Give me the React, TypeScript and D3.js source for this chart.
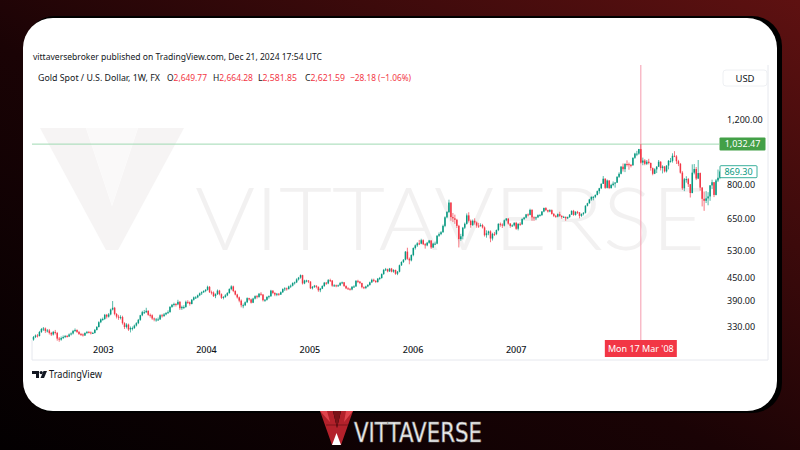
import React from "react";
import * as d3 from "d3";

// ---- DATA ----
// first Monday of each yearly block of weekly candles
const yearStarts = ["2002-04-29", "2003-01-06", "2004-01-05", "2005-01-03", "2006-01-02", "2007-01-01", "2008-01-07"];
const firstOpen = 305;
// weekly candles: [high, low, close]; open = previous close
const gold2002 = [
  [312, 303, 310], [315, 308, 313], [316, 309, 312], [322, 311, 320], [328, 318, 326],
  [330, 322, 327], [329, 318, 322], [326, 319, 323], [326, 315, 318],
  [320, 312, 315], [322, 313, 320], [324, 315, 318], [320, 303, 307], [310, 301, 305],
  [311, 303, 308], [313, 306, 310], [314, 308, 312], [314, 309, 311],
  [317, 310, 315], [319, 313, 317], [324, 315, 322], [327, 320, 324], [325, 318, 320],
  [322, 314, 316], [318, 312, 315], [317, 311, 313], [319, 312, 318],
  [322, 316, 320], [322, 317, 319], [321, 315, 317], [320, 316, 318],
  [326, 317, 324], [332, 323, 330], [342, 329, 340], [348, 338, 346], [350, 343, 347],
];
const gold2003 = [
  [358, 345, 356], [358, 348, 352], [360, 350, 357], [370, 355, 368],
  [388, 366, 372], [374, 355, 358], [360, 348, 352], [356, 345, 350],
  [355, 346, 351], [354, 335, 338], [340, 326, 330], [338, 327, 335], [337, 322, 325],
  [331, 319, 328], [331, 323, 328], [335, 326, 333], [340, 331, 338],
  [347, 336, 345], [356, 343, 355], [365, 353, 362], [367, 358, 362],
  [372, 360, 365], [366, 354, 356], [359, 350, 355], [357, 345, 348], [350, 342, 346],
  [349, 341, 346], [350, 343, 346], [357, 345, 355], [358, 350, 353],
  [360, 352, 357], [362, 355, 360], [366, 358, 362], [376, 361, 374],
  [381, 372, 379], [384, 375, 381], [383, 375, 380], [391, 378, 386], [388, 367, 371],
  [377, 367, 374], [378, 369, 374], [389, 372, 386], [390, 381, 385],
  [387, 377, 381], [393, 380, 391], [399, 389, 397], [400, 393, 397],
  [404, 395, 402], [409, 400, 407], [412, 403, 410], [415, 408, 413], [418, 410, 416],
];
const gold2004 = [
  [427, 414, 424], [426, 408, 410], [414, 404, 409], [412, 398, 400],
  [407, 395, 405], [417, 403, 414], [416, 402, 405], [407, 393, 396],
  [400, 392, 398], [405, 396, 402], [410, 400, 408], [420, 406, 418], [428, 415, 425],
  [427, 410, 413], [415, 402, 404], [406, 394, 397], [399, 385, 389],
  [392, 373, 378], [382, 371, 378], [387, 376, 385], [397, 383, 395], [396, 389, 392],
  [394, 382, 384], [396, 383, 394], [402, 392, 400], [403, 394, 398],
  [408, 396, 406], [410, 401, 404], [405, 387, 390], [393, 386, 391],
  [400, 389, 398], [402, 394, 400], [416, 398, 414], [415, 405, 408], [410, 400, 404],
  [408, 400, 406], [408, 401, 404], [412, 403, 410], [420, 408, 418],
  [423, 413, 420], [422, 414, 418], [427, 417, 425], [430, 421, 427],
  [436, 425, 434], [438, 430, 436], [447, 434, 444], [451, 441, 449], [458, 446, 456],
  [457, 430, 433], [443, 431, 441], [443, 436, 441], [442, 434, 438],
];
const gold2005 = [
  [439, 418, 420], [426, 417, 424], [429, 421, 427], [428, 420, 424], [425, 411, 415],
  [421, 410, 419], [428, 418, 426], [437, 424, 435], [437, 429, 433],
  [445, 431, 442], [446, 437, 441], [442, 424, 427], [431, 424, 428],
  [430, 423, 426], [430, 424, 428], [437, 426, 434], [438, 431, 436],
  [437, 424, 426], [428, 418, 420], [423, 416, 419], [420, 414, 417], [426, 415, 424],
  [428, 421, 425], [442, 424, 440], [443, 434, 438], [439, 431, 434],
  [435, 420, 423], [425, 418, 421], [427, 418, 425], [431, 423, 429],
  [438, 427, 436], [446, 434, 443], [446, 437, 440], [442, 434, 437], [448, 435, 446],
  [451, 442, 448], [461, 446, 459], [474, 457, 471], [477, 468, 473],
  [475, 464, 467], [477, 465, 475], [477, 464, 466], [473, 463, 471], [472, 457, 460],
  [468, 456, 466], [487, 464, 485], [497, 483, 495], [504, 492, 502],
  [530, 500, 528], [541, 502, 505], [509, 488, 500], [519, 497, 517],
];
const gold2006 = [
  [542, 513, 540], [552, 535, 549], [560, 544, 556], [568, 550, 555], [572, 553, 567],
  [570, 550, 553], [557, 538, 549], [561, 546, 558], [568, 555, 566],
  [567, 537, 542], [558, 540, 555], [562, 550, 555], [585, 553, 583],
  [595, 579, 589], [600, 585, 596], [625, 594, 620], [658, 615, 654],
  [680, 650, 676], [730, 672, 717], [718, 640, 655], [672, 635, 650], [665, 628, 644],
  [648, 612, 620], [624, 542, 571], [590, 565, 581], [616, 570, 613],
  [633, 608, 628], [670, 625, 662], [675, 633, 640], [645, 613, 623], [645, 620, 640],
  [650, 625, 633], [637, 613, 621], [632, 612, 619], [630, 617, 623],
  [628, 610, 614], [618, 580, 585], [603, 576, 592], [602, 585, 599],
  [603, 560, 573], [594, 566, 590], [597, 582, 589], [606, 585, 604], [630, 600, 628],
  [633, 617, 625], [630, 612, 621], [645, 618, 642], [651, 638, 649],
  [650, 625, 629], [631, 613, 620], [626, 616, 622], [634, 618, 632],
];
const gold2007 = [
  [636, 605, 609], [630, 603, 628], [634, 620, 626], [650, 624, 647], [656, 643, 653],
  [668, 650, 666], [670, 657, 664], [690, 662, 685], [688, 640, 654],
  [658, 640, 651], [657, 643, 654], [666, 651, 663], [668, 658, 663],
  [680, 660, 678], [695, 675, 693], [697, 680, 684], [686, 674, 678], [688, 675, 684],
  [687, 665, 668], [672, 655, 660], [664, 652, 657], [670, 654, 667],
  [677, 656, 660], [662, 648, 655], [660, 652, 656], [657, 640, 650],
  [657, 647, 655], [667, 652, 665], [683, 664, 681], [685, 660, 664], [679, 661, 677],
  [681, 668, 674], [676, 650, 660], [670, 656, 668], [675, 662, 673],
  [705, 670, 703], [716, 700, 714], [734, 712, 731], [745, 725, 743],
  [746, 727, 743], [754, 737, 752], [773, 750, 770], [786, 758, 784], [808, 780, 806],
  [846, 805, 832], [834, 781, 786], [828, 783, 823], [824, 780, 785],
  [806, 782, 800], [818, 794, 807], [815, 787, 812], [845, 810, 842], [866, 836, 858],
];
const gold2008 = [
  [900, 855, 897], [915, 870, 883], [917, 867, 912], [933, 898, 911],
  [920, 880, 907], [912, 893, 905], [950, 902, 948], [978, 942, 973],
  [990, 958, 973], [1002, 966, 1001], [1032.47, 915, 920], [949, 905, 932], [940, 905, 913],
  [935, 906, 925], [942, 910, 918], [920, 875, 889], [892, 850, 858],
  [888, 856, 882], [900, 862, 897], [935, 895, 925], [928, 876, 889],
  [905, 860, 898], [901, 865, 871], [905, 865, 903], [935, 882, 930], [947, 920, 930],
  [975, 920, 960], [988, 952, 956], [964, 912, 928], [936, 900, 913],
  [918, 859, 864], [872, 776, 784], [836, 770, 829], [845, 812, 830],
  [836, 790, 804], [805, 740, 761], [910, 760, 864], [912, 855, 884], [895, 825, 833],
  [935, 830, 862], [865, 772, 787], [790, 700, 734], [768, 681, 725],
  [770, 715, 736], [765, 705, 745], [800, 725, 798], [827, 780, 814],
  [815, 742, 752], [830, 750, 823], [881, 815, 837], [875, 830, 869.3],
];
const yearBlocks = [gold2002, gold2003, gold2004, gold2005, gold2006, gold2007, gold2008];

const priceTicks = [1200, 800, 650, 530, 450, 390, 330];
const yearTicks = [2003, 2004, 2005, 2006, 2007];
const headerText = "vittaversebroker published on TradingView.com, Dec 21, 2024 17:54 UTC";
const symbolTitle = "Gold Spot / U.S. Dollar, 1W, FX";
const ohlcLetters = ["O", "H", "L", "C"];
const ohlcValues = ["2,649.77", "2,664.28", "2,581.85", "2,621.59"];
const changeText = "\u221228.18 (\u22121.06%)";
const currency = "USD";
const crosshairDate = "2008-03-17";
const crosshairDateLabel = "Mon 17 Mar '08";
const crosshairPrice = 1032.47;
const lastPrice = 869.3;
const brandName = "VITTAVERSE";

// ---- LAYOUT ----
const W = 800;
const H = 450;
const paneLeft = 32;
const paneRight = 768;
const plotRight = 719;
const paneTop = 65;
const paneBottom = 360;
const axisTop = 340;
const UP = "#089981";
const DOWN = "#F23645";
const FONT = "'Noto Sans', 'DejaVu Sans', sans-serif";

const parse = d3.timeParse("%Y-%m-%d");

type Candle = { date: Date; o: number; h: number; l: number; c: number };

function buildCandles(): Candle[] {
  const out: Candle[] = [];
  let prev = firstOpen;
  yearBlocks.forEach((rows, yi) => {
    const start = parse(yearStarts[yi]) as Date;
    rows.forEach((r, i) => {
      const date = d3.timeWeek.offset(start, i);
      out.push({ date, o: prev, h: r[0], l: r[1], c: r[2] });
      prev = r[2];
    });
  });
  return out;
}

const fmt = d3.format(",.2f");

export default function App() {
  const candles = buildCandles();
  const x = d3
    .scaleTime()
    .domain([new Date(2003, 0, 1), new Date(2007, 0, 1)])
    .range([103.3, 516.2]);
  const y = d3.scaleLog().domain([330, 1200]).range([327, 120]);

  const cx = x(parse(crosshairDate) as Date);
  const cy = y(crosshairPrice);
  const ly = y(lastPrice);

  const bodyW = 1.5;

  // legend item positions / widths
  const ohlcX = [167, 213, 258, 305];
  const ohlcW = [40, 40, 39, 40];

  return (
    <svg
      width={W}
      height={H}
      style={{ position: "absolute", left: 0, top: 0, display: "block" }}
      fontFamily={FONT}
    >
      <defs>
        <linearGradient id="bg" x1="0" y1="1" x2="1" y2="0">
          <stop offset="0" stopColor="#030001" />
          <stop offset="0.45" stopColor="#1a0305" />
          <stop offset="1" stopColor="#5e1111" />
        </linearGradient>
      </defs>
      <rect x={0} y={0} width={W} height={H} fill="url(#bg)" />

      {/* card */}
      <rect x={25} y={16} width={757} height={397} rx={30} fill="#000" />
      <rect x={23} y={18} width={754} height={393} rx={30} fill="#ffffff" />

      {/* watermark */}
      <g opacity={0.6}>
        <polygon points="40,128 86,128 112,206 138,128 184,128 118,250 106,250" fill="#f1eeee" />
        <polygon points="86,128 138,128 112,206" fill="#f8f6f6" />
        <text
          x={195}
          y={250}
          fontSize={86}
          fontWeight={300}
          fill="#ebe8e8"
          textLength={510}
          lengthAdjust="spacingAndGlyphs"
          fontFamily="'Lato', 'Noto Sans', sans-serif"
        >
          {brandName}
        </text>
      </g>

      {/* pane borders */}
      <line x1={paneLeft} x2={paneLeft} y1={axisTop} y2={paneBottom} stroke="#e6e8ee" />
      <line x1={paneRight} x2={paneRight} y1={paneTop} y2={paneBottom} stroke="#e6e8ee" />
      <line x1={paneLeft} x2={paneRight} y1={paneBottom} y2={paneBottom} stroke="#e6e8ee" />

      {/* header */}
      <text x={33} y={60} fontSize={9} fill="#131722" textLength={289} lengthAdjust="spacingAndGlyphs">
        {headerText}
      </text>
      <text x={38} y={80.5} fontSize={9} fill="#131722" textLength={122} lengthAdjust="spacingAndGlyphs">
        {symbolTitle}
      </text>
      {ohlcLetters.map((L, i) => (
        <text
          key={L}
          x={ohlcX[i]}
          y={80.5}
          fontSize={9}
          textLength={ohlcW[i]}
          lengthAdjust="spacingAndGlyphs"
        >
          <tspan fill="#131722">{L}</tspan>
          <tspan fill="#F23645">{ohlcValues[i]}</tspan>
        </text>
      ))}
      <text x={350} y={80.5} fontSize={9} fill="#F23645" textLength={61} lengthAdjust="spacingAndGlyphs">
        {changeText}
      </text>

      {/* crosshair lines */}
      <line x1={paneLeft} x2={plotRight} y1={cy} y2={cy} stroke="#9fd9b3" strokeWidth={1} />
      <line x1={cx} x2={cx} y1={paneTop} y2={axisTop} stroke="#f59aae" strokeWidth={1} />

      {/* candles */}
      <g>
        {candles.map((d, i) => {
          const up = d.c >= d.o;
          const col = up ? UP : DOWN;
          const xx = x(d.date);
          const top = y(Math.max(d.o, d.c));
          const bot = y(Math.min(d.o, d.c));
          return (
            <g key={i}>
              <line x1={xx} x2={xx} y1={y(d.h)} y2={y(d.l)} stroke={col} strokeWidth={0.8} opacity={0.85} />
              <rect x={xx - bodyW / 2} y={top} width={bodyW} height={Math.max(1, bot - top)} fill={col} />
            </g>
          );
        })}
      </g>

      {/* price axis */}
      <rect x={723} y={70} width={44} height={16} rx={3} fill="#fff" stroke="#eef0f3" />
      <text x={745} y={81.5} fontSize={9.5} fill="#131722" textAnchor="middle">
        {currency}
      </text>
      {priceTicks.map((t) => (
        <text key={t} x={727} y={y(t) + 3.3} fontSize={9} fill="#131722">
          {fmt(t)}
        </text>
      ))}
      <rect x={719.5} y={cy - 6.5} width={46} height={13} fill="#43a047" rx={1} />
      <text x={742.5} y={cy + 3.2} fontSize={9} fill="#ffffff" textAnchor="middle">
        {fmt(crosshairPrice)}
      </text>
      <rect x={720} y={ly - 6} width={37} height={12} fill="#ffffff" stroke={UP} strokeWidth={0.8} rx={1} />
      <text x={738.5} y={ly + 3.2} fontSize={9} fill={UP} textAnchor="middle">
        {fmt(lastPrice)}
      </text>

      {/* time axis */}
      {yearTicks.map((yr) => (
        <text key={yr} x={x(new Date(yr, 0, 1))} y={353} fontSize={9} fill="#131722" textAnchor="middle" fontWeight={500}>
          {yr}
        </text>
      ))}
      <rect x={cx - 36} y={axisTop} width={72} height={17} fill="#F23645" />
      <text x={cx} y={352} fontSize={9} fill="#ffffff" textAnchor="middle">
        {crosshairDateLabel}
      </text>

      {/* TradingView logo */}
      <g fill="#131722">
        <path d="M32,371 h7 v7 h-3 v-4 h-4 z" />
        <circle cx={41.2} cy={372.6} r={1.6} />
        <path d="M43.5,371 h3.5 l-3,7 h-3.5 z" />
      </g>
      <text x={49} y={377.5} fontSize={10} fill="#131722" textLength={53} lengthAdjust="spacingAndGlyphs">
        TradingView
      </text>

      {/* bottom brand logo */}
      <g>
        <polygon points="320,411 333,411 337,428 341,411 353,411 341,445 332,445" fill="#b3212b" />
        <polygon points="333,411 341,411 337,428" fill="#7a1218" />
        <polygon points="320,411 327,411 330,422" fill="#e0434c" />
        <polygon points="346,411 353,411 344,422" fill="#e0434c" />
        <polygon points="332,445 336.5,433 341,445" fill="#ffffff" />
        <line x1={326} y1={425} x2={348} y2={425} stroke="#5a0a0e" strokeWidth={0.6} />
      </g>
      <text
        x={354}
        y={442}
        fontSize={27}
        fill="#f2f2f2"
        stroke="#8a8a8a"
        strokeWidth={0.7}
        textLength={128}
        lengthAdjust="spacingAndGlyphs"
        fontFamily="'DejaVu Sans', sans-serif"
      >
        {brandName}
      </text>
    </svg>
  );
}
